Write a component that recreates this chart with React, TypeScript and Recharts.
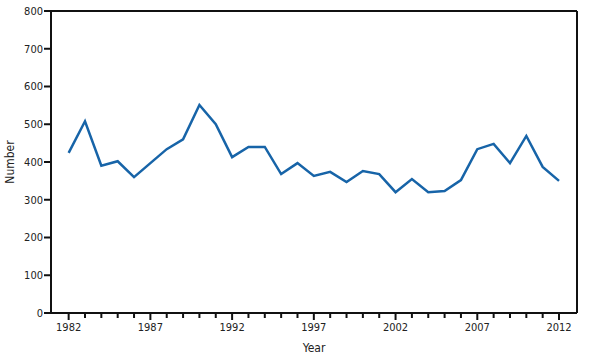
import { LineChart, Line, XAxis, YAxis, ReferenceLine } from "recharts";

const years = [
  1982, 1983, 1984, 1985, 1986, 1987, 1988, 1989, 1990, 1991, 1992, 1993, 1994, 1995, 1996, 1997,
  1998, 1999, 2000, 2001, 2002, 2003, 2004, 2005, 2006, 2007, 2008, 2009, 2010, 2011, 2012,
];
const counts = [
  424, 508, 390, 402, 360, 397, 434, 460, 551, 500, 413, 440, 440, 368, 397, 363,
  374, 347, 376, 368, 320, 355, 320, 323, 352, 434, 448, 397, 469, 387, 350,
];
const yTicks = [0, 100, 200, 300, 400, 500, 600, 700, 800];
const labelYears = [1982, 1987, 1992, 1997, 2002, 2007, 2012];

const data = years.map((year, i) => ({ year, count: counts[i] }));

const font = "'DejaVu Sans Condensed', 'Liberation Sans Narrow', sans-serif";
const ink = "#222";

function YearTick(props: any) {
  const { x, y, payload } = props;
  const major = labelYears.includes(payload.value);
  return (
    <g>
      <line x1={x} x2={x} y1={y} y2={y + (major ? 7 : 5)} stroke="#111" strokeWidth={2} />
      {major ? (
        <text x={x} y={y + 18} textAnchor="middle" fontSize={11} fill={ink} fontFamily={font}>
          {payload.value}
        </text>
      ) : null}
    </g>
  );
}

export default function App() {
  return (
    <div style={{ position: "absolute", left: 0, top: 0, background: "#fff" }}>
      <LineChart width={600} height={358} data={data} margin={{ top: 11, right: 23, bottom: 0, left: 0 }}>
        <XAxis
          dataKey="year"
          type="number"
          domain={[1980.92, 2013.1]}
          ticks={years}
          interval={0}
          tick={<YearTick />}
          tickLine={false}
          tickSize={0}
          tickMargin={0}
          axisLine={{ stroke: "#111", strokeWidth: 2 }}
          height={45}
          allowDataOverflow
          label={{ value: "Year", position: "insideBottom", offset: 6, fontSize: 12, fill: ink, fontFamily: font }}
        />
        <YAxis
          domain={[0, 800]}
          ticks={yTicks}
          interval={0}
          width={51}
          tick={{ fontSize: 11, fill: ink, fontFamily: font }}
          tickSize={7}
          tickMargin={1}
          tickLine={{ stroke: "#111", strokeWidth: 2 }}
          axisLine={{ stroke: "#111", strokeWidth: 2 }}
          label={{
            value: "Number",
            angle: -90,
            position: "insideLeft",
            offset: 10,
            fontSize: 12,
            fill: ink,
            fontFamily: font,
            style: { textAnchor: "middle" },
          }}
        />
        <ReferenceLine y={800} stroke="#111" strokeWidth={2} />
        <ReferenceLine x={2013.1} stroke="#111" strokeWidth={2} />
        <Line
          type="linear"
          dataKey="count"
          stroke="#1764a8"
          strokeWidth={2.5}
          dot={false}
          isAnimationActive={false}
        />
      </LineChart>
    </div>
  );
}
